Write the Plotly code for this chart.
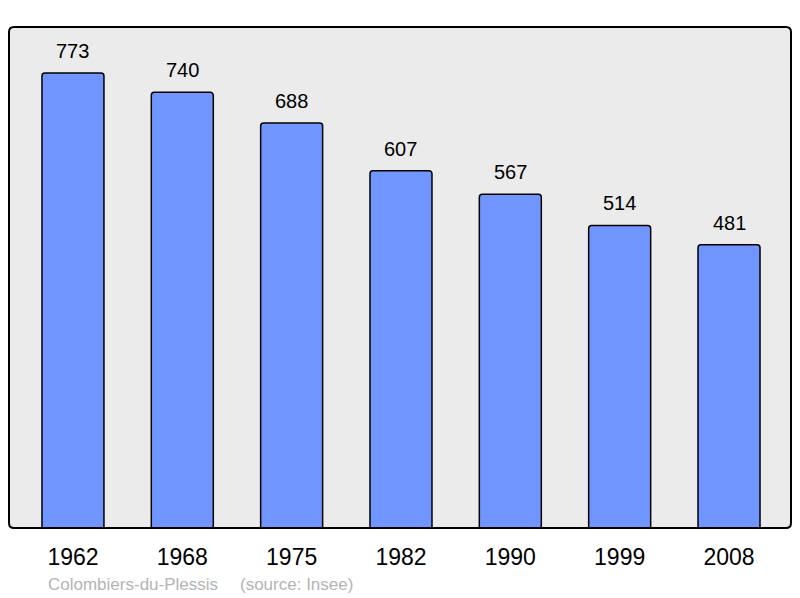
import plotly.graph_objects as go

years = ["1962", "1968", "1975", "1982", "1990", "1999", "2008"]
population = [773, 740, 688, 607, 567, 514, 481]
commune = "Colombiers-du-Plessis"
source = "(source: Insee)"

W, H = 800, 598
L, R, T, B = 9, 9, 27, 70
pw, ph = W - L - R, H - T - B
FONT = "Liberation Sans, Arial, sans-serif"

xs = list(range(len(years)))

fig = go.Figure()
fig.add_trace(go.Bar(
    x=xs, y=population, width=0.567,
    marker=dict(color="#7095ff", line=dict(color="#000000", width=1.5), cornerradius=3),
    hoverinfo="skip",
))

for x, v in zip(xs, population):
    fig.add_annotation(x=x, y=v, text=str(v), showarrow=False, yanchor="bottom",
                       yshift=9, font=dict(size=20, color="#000000", family=FONT))

# rounded border
r = 5
rx, ry = r / pw, r / ph
path = (f"M {rx},0 L {1-rx},0 Q 1,0 1,{ry} L 1,{1-ry} Q 1,1 {1-rx},1 "
        f"L {rx},1 Q 0,1 0,{1-ry} L 0,{ry} Q 0,0 {rx},0 Z")
fig.add_shape(type="path", path=path, xref="paper", yref="paper",
              fillcolor="#ebebeb", line=dict(width=0), layer="below")
fig.add_shape(type="path", path=path, xref="paper", yref="paper",
              fillcolor="rgba(0,0,0,0)", line=dict(color="#000000", width=2), layer="above")

fig.add_annotation(x=(49 - L) / pw, y=-0.112, xref="paper", yref="paper", text=commune,
                   showarrow=False, xanchor="left", yanchor="middle", xshift=-3,
                   font=dict(size=17, color="#b4b4b4", family=FONT))
fig.add_annotation(x=(241 - L) / pw, y=-0.112, xref="paper", yref="paper", text=source,
                   showarrow=False, xanchor="left", yanchor="middle", xshift=-3,
                   font=dict(size=17, color="#b4b4b4", family=FONT))

fig.update_layout(
    width=W, height=H, margin=dict(l=L, r=R, t=T, b=B),
    paper_bgcolor="#ffffff", plot_bgcolor="rgba(0,0,0,0)",
    showlegend=False,
    font=dict(family=FONT, color="#000000"),
    xaxis=dict(range=[-0.585, 6.567], tickvals=xs, ticktext=years, showgrid=False,
               zeroline=False, showline=False, ticks="outside", ticklen=8,
               tickcolor="rgba(0,0,0,0)", tickfont=dict(size=23, color="#000000"),
               fixedrange=True),
    yaxis=dict(range=[0, 851], showgrid=False, zeroline=False, showline=False,
               showticklabels=False, fixedrange=True),
)

fig.write_html("out.html", config={"displayModeBar": False},
               post_script="document.body.style.margin='0';document.body.style.padding='0';")
